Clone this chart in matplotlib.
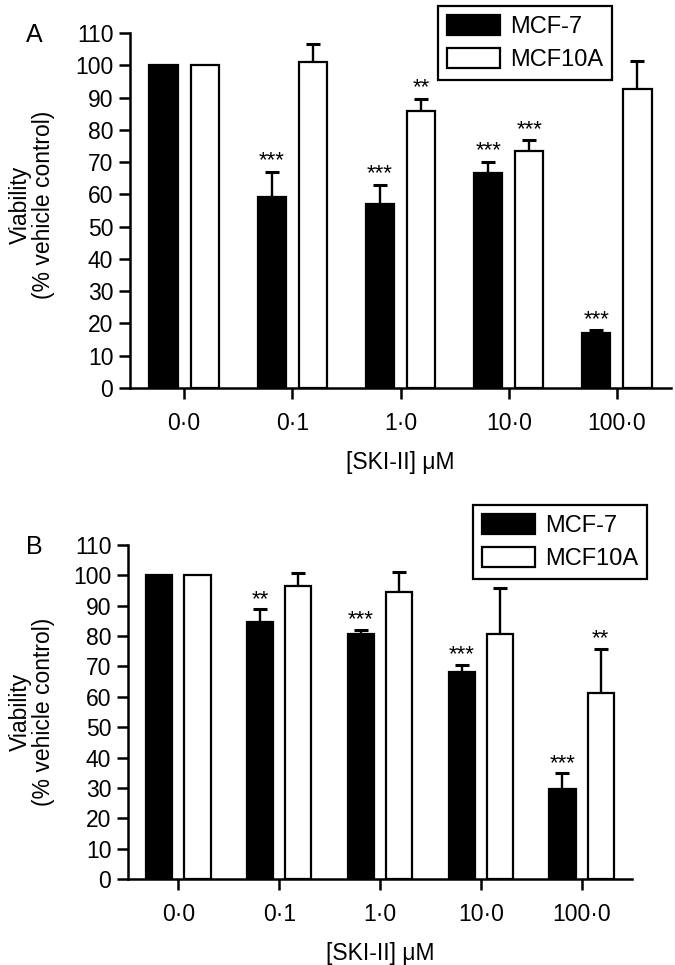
import numpy as np
import matplotlib
matplotlib.use('Agg')
import matplotlib.pyplot as plt

plt.rcParams['font.family'] = ['Liberation Sans', 'DejaVu Sans']

doses = ['0\u00b70', '0\u00b71', '1\u00b70', '10\u00b70', '100\u00b70']
series = ['MCF-7', 'MCF10A']

# panel A
a_mcf7 = [100, 59.2, 57.0, 66.5, 17.1]
a_mcf7_err = [0, 7.8, 6.0, 3.6, 0.8]
a_mcf10a = [100, 100.9, 85.7, 73.4, 92.5]
a_mcf10a_err = [0, 5.6, 3.9, 3.4, 8.8]
a_mcf7_sig = ['', '***', '***', '***', '***']
a_mcf10a_sig = ['', '', '**', '***', '']

# panel B
b_mcf7 = [100, 84.8, 80.6, 68.3, 29.6]
b_mcf7_err = [0, 4.0, 1.5, 2.3, 5.2]
b_mcf10a = [100, 96.4, 94.5, 80.7, 61.4]
b_mcf10a_err = [0, 4.3, 6.5, 15.2, 14.4]
b_mcf7_sig = ['', '**', '***', '***', '***']
b_mcf10a_sig = ['', '', '', '', '**']

W, H = 675, 965
fig = plt.figure(figsize=(W / 100, H / 100), dpi=100)


def rect(l, r, t, b):
    return [l / W, 1 - b / H, (r - l) / W, (b - t) / H]


def panel(ax, black, black_err, white, white_err, black_sig, white_sig,
          letter, legend_box, ycenter):
    x = np.arange(len(doses))
    off, bw = 0.19, 0.26
    ax.bar(x - off, black, bw, color='black', edgecolor='black', lw=1.6,
           label=series[0], zorder=2)
    ax.bar(x + off, white, bw, color='white', edgecolor='black', lw=1.6,
           label=series[1], zorder=2)
    for xs, v, e in [(x - off, black, black_err), (x + off, white, white_err)]:
        e = np.array(e, dtype=float)
        m = e > 0
        ax.errorbar(xs[m], np.array(v)[m], yerr=[np.zeros(m.sum()), e[m]],
                    fmt='none', ecolor='black', elinewidth=1.7, capsize=5,
                    capthick=2.2, zorder=1)
    for xs, v, e, s in [(x - off, black, black_err, black_sig),
                        (x + off, white, white_err, white_sig)]:
        for xi, vi, ei, si in zip(xs, v, e, s):
            if si:
                ax.text(xi, vi + ei + 3.3, si, ha='center', va='center',
                        fontsize=16)

    ax.set_xlim(-0.5, 4.5)
    ax.set_ylim(0, 110)
    ax.set_yticks(np.arange(0, 111, 10))
    ax.set_xticks(x)
    ax.set_xticklabels(doses)
    for s in ['top', 'right']:
        ax.spines[s].set_visible(False)
    for s in ['left', 'bottom']:
        ax.spines[s].set_linewidth(1.8)
    ax.tick_params(axis='both', labelsize=16.5, width=1.8, length=8)
    ax.tick_params(axis='y', pad=4)
    ax.tick_params(axis='x', pad=9)
    ax.set_xlabel('[SKI-II] \u03bcM', fontsize=16.5, labelpad=12)

    fig.text(32 / W, 1 - ycenter / H, 'Viability\n(% vehicle control)',
             rotation=90, ha='center', va='center', fontsize=16.5,
             multialignment='center', linespacing=1.0)
    pos = ax.get_position()
    fig.text(34 / W, pos.y1 - 2 / H, letter, ha='center', va='center',
             fontsize=18)

    leg = ax.legend(loc='upper right', bbox_to_anchor=legend_box,
                    bbox_transform=fig.transFigure, fontsize=17,
                    fancybox=False, edgecolor='black', framealpha=1,
                    handlelength=2.25, handleheight=0.95, handletextpad=0.4,
                    labelspacing=0.4, borderpad=0.38, borderaxespad=0)
    leg.get_frame().set_linewidth(1.6)


ax1 = fig.add_axes(rect(130, 671, 33, 388))
panel(ax1, a_mcf7, a_mcf7_err, a_mcf10a, a_mcf10a_err, a_mcf7_sig,
      a_mcf10a_sig, 'A', (612 / W, 1 - 6 / H), 205)

ax2 = fig.add_axes(rect(128, 632, 545, 879))
panel(ax2, b_mcf7, b_mcf7_err, b_mcf10a, b_mcf10a_err, b_mcf7_sig,
      b_mcf10a_sig, 'B', (647 / W, 1 - 505 / H), 712)

fig.savefig('out.png', dpi=100)
